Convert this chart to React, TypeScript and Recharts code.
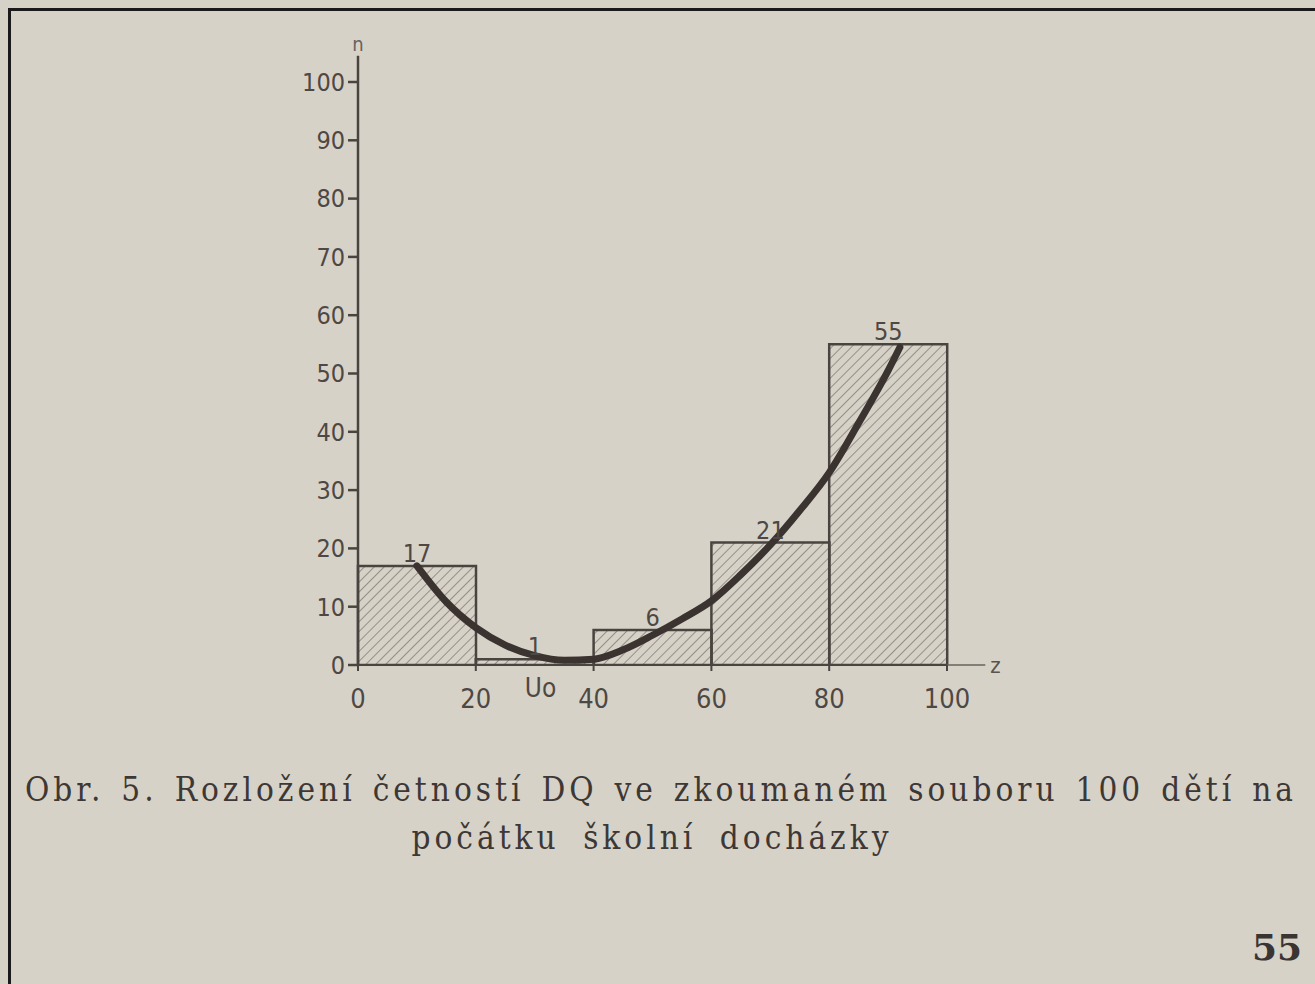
import * as React from 'react';
import {
  Bar,
  ComposedChart,
  LabelList,
  Line,
  ReferenceDot,
  ReferenceLine,
  XAxis,
  YAxis,
} from 'recharts';

// histogram bins of DQ (z) and counts (n)
const binLabels = ['0-20', '20-40', '40-60', '60-80', '80-100'];
const binCounts = [17, 1, 6, 21, 55];

// hand-drawn fitted curve
const curveZ = [10, 15, 20, 25, 30, 35, 40, 45, 50, 55, 60, 65, 70, 75, 80, 85, 90, 92];
const curveN = [17, 10.8, 6.4, 3.4, 1.6, 0.8, 1, 2.6, 5.1, 7.9, 11, 15.5, 20.6, 26.5, 33, 41.5, 50.5, 54.5];

const xTicks = [0, 20, 40, 60, 80, 100];
const yTicks = [0, 10, 20, 30, 40, 50, 60, 70, 80, 90, 100];

const INK = '#4a4440';
const PAPER = '#d7d2c8';
const AXIS_FONT = '"DejaVu Sans Condensed", "DejaVu Sans", sans-serif';

const bins = binLabels.map((label, i) => ({ label, n: binCounts[i] }));
const curve = curveZ.map((z, i) => ({ z, n: curveN[i] }));

export default function App() {
  return (
    <div
      style={{
        position: 'absolute',
        left: 0,
        top: 0,
        width: 1315,
        height: 984,
        background: PAPER,
        overflow: 'hidden',
      }}
    >
      {/* scan frame */}
      <div
        style={{
          position: 'absolute',
          left: 8,
          top: 8,
          right: -10,
          bottom: -10,
          borderTop: '3px solid #1a1a1a',
          borderLeft: '3px solid #1a1a1a',
        }}
      />
      <div style={{ position: 'absolute', left: 0, top: 0 }}>
        <ComposedChart
          width={1315}
          height={760}
          data={bins}
          margin={{ top: 82, right: 368, bottom: 55, left: 298 }}
          barCategoryGap={0}
        >
          <defs>
            <pattern
              id="hatch"
              width={7}
              height={7}
              patternUnits="userSpaceOnUse"
              patternTransform="rotate(45)"
            >
              <line x1={0} y1={0} x2={0} y2={7} stroke="#5d5550" strokeWidth={1.1} />
            </pattern>
          </defs>
          <XAxis dataKey="label" xAxisId="cat" hide height={0} />
          <XAxis
            xAxisId="num"
            type="number"
            dataKey="z"
            domain={[0, 100]}
            ticks={xTicks}
            allowDataOverflow
            height={40}
            tickSize={6}
            tickMargin={18}
            stroke={INK}
            strokeWidth={2}
            tick={{ fill: '#4e4844', fontSize: 27, fontFamily: AXIS_FONT }}
          />
          <YAxis
            type="number"
            domain={[0, 100]}
            ticks={yTicks}
            allowDataOverflow
            width={60}
            tickSize={10}
            tickMargin={3}
            stroke={INK}
            strokeWidth={2.5}
            tick={{ fill: '#4e4844', fontSize: 25, fontFamily: AXIS_FONT }}
          />
          <Bar
            dataKey="n"
            xAxisId="cat"
            fill="url(#hatch)"
            stroke={INK}
            strokeWidth={2.5}
            isAnimationActive={false}
          >
            <LabelList
              dataKey="n"
              position="top"
              offset={4}
              fill="#4e4844"
              fontSize={25}
              fontFamily={AXIS_FONT}
            />
          </Bar>
          <Line
            data={curve}
            xAxisId="num"
            dataKey="n"
            type="monotone"
            stroke="#3a3330"
            strokeWidth={7}
            strokeLinecap="round"
            dot={false}
            isAnimationActive={false}
          />
          {/* axis continuation beyond 100 and to the top */}
          <ReferenceLine
            xAxisId="num"
            segment={[
              { x: 100, y: 0 },
              { x: 106.5, y: 0 },
            ]}
            stroke="#6a625c"
            strokeWidth={1.5}
            ifOverflow="visible"
            label={{
              value: 'z',
              position: 'right',
              fill: '#5a534e',
              fontSize: 22,
              fontFamily: AXIS_FONT,
            }}
          />
          <ReferenceLine
            xAxisId="num"
            segment={[
              { x: 0, y: 100 },
              { x: 0, y: 104.5 },
            ]}
            stroke={INK}
            strokeWidth={2.5}
            ifOverflow="visible"
            label={{
              value: 'n',
              position: 'top',
              fill: '#6a625c',
              fontSize: 20,
              fontFamily: AXIS_FONT,
            }}
          />
          <ReferenceDot
            xAxisId="num"
            x={31}
            y={0}
            r={0}
            ifOverflow="visible"
            label={{
              value: 'Uo',
              position: 'bottom',
              offset: 14,
              fill: '#4e4844',
              fontSize: 26,
              fontFamily: AXIS_FONT,
            }}
          />
        </ComposedChart>
      </div>
      <div
        style={{
          position: 'absolute',
          left: 25,
          top: 766,
          width: 1272,
          fontFamily: '"DejaVu Serif Condensed", "DejaVu Serif", serif',
          fontSize: 33,
          color: '#3d3835',
          lineHeight: '48px',
        }}
      >
        <div style={{ textAlign: 'justify', textAlignLast: 'justify', letterSpacing: 4 }}>
          Obr. 5. Rozložení četností DQ ve zkoumaném souboru 100 dětí na
        </div>
        <div style={{ textAlign: 'center', letterSpacing: 4, wordSpacing: 10, marginRight: 18 }}>
          počátku školní docházky
        </div>
      </div>
      <div
        style={{
          position: 'absolute',
          left: 1252,
          top: 926,
          fontFamily: '"DejaVu Serif", serif',
          fontWeight: 'bold',
          fontSize: 36,
          color: '#3a3532',
        }}
      >
        55
      </div>
    </div>
  );
}
